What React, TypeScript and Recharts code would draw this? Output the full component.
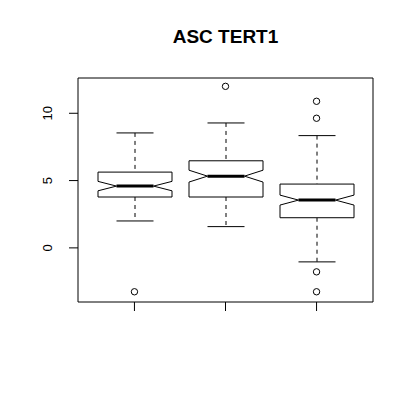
import { ComposedChart, Bar, Scatter, XAxis, YAxis, ReferenceArea } from 'recharts';

const groups = ['1', '2', '3'];
const whiskerLow = [2.0, 1.58, -1.04];
const lowerQuartile = [3.78, 3.78, 2.24];
const medians = [4.59, 5.33, 3.55];
const upperQuartile = [5.63, 6.47, 4.74];
const whiskerHigh = [8.54, 9.28, 8.34];
const notchHalf = [0.35, 0.44, 0.37];

const outlierGroup = [1, 2, 3, 3, 3, 3];
const outlierValue = [-3.26, 12.0, 10.89, 9.63, -1.78, -3.26];

const yTicks = [0, 5, 10];
const xTicks = [1, 2, 3];
const yDomain = [-4.02, 12.62];
const xDomain = [0.38, 3.62];

const boxes = groups.map((name, i) => ({
  name,
  g: i + 1,
  lo: whiskerLow[i],
  q1: lowerQuartile[i],
  med: medians[i],
  q3: upperQuartile[i],
  hi: whiskerHigh[i],
  notch: notchHalf[i],
}));

const outliers = outlierGroup.map((g, i) => ({ g, v: outlierValue[i] }));

const FONT = '"Liberation Sans", Arial, sans-serif';

function BoxShape(props: any) {
  const { x, y, width, height, payload } = props;
  const p = payload;
  // pixel position of a value, using the whisker range the bar was drawn with
  const py = (v: number) => y + (height * (p.hi - v)) / (p.hi - p.lo);
  const cx = x + width / 2;
  const l = x;
  const r = x + width;
  const inset = width / 4;
  const yq3 = py(p.q3);
  const yq1 = py(p.q1);
  const ym = py(p.med);
  const yn1 = py(p.med + p.notch);
  const yn2 = py(p.med - p.notch);
  const outline = [
    [l, yq3], [l, yn1], [l + inset, ym], [l, yn2], [l, yq1],
    [r, yq1], [r, yn2], [r - inset, ym], [r, yn1], [r, yq3],
  ].map((pt) => pt.join(',')).join(' ');
  const cap = width / 4;
  return (
    <g>
      <line x1={cx} x2={cx} y1={py(p.hi)} y2={yq3} stroke="#000" strokeDasharray="4 4" />
      <line x1={cx} x2={cx} y1={yq1} y2={py(p.lo)} stroke="#000" strokeDasharray="4 4" />
      <line x1={cx - cap} x2={cx + cap} y1={py(p.hi)} y2={py(p.hi)} stroke="#000" />
      <line x1={cx - cap} x2={cx + cap} y1={py(p.lo)} y2={py(p.lo)} stroke="#000" />
      <polygon points={outline} fill="#fff" stroke="#000" />
      <line x1={l + inset} x2={r - inset} y1={ym} y2={ym} stroke="#000" strokeWidth={3} />
    </g>
  );
}

function YTick(props: any) {
  const { y, payload } = props;
  const bx = 52.5;
  return (
    <text
      x={bx}
      y={y}
      transform={`rotate(-90, ${bx}, ${y})`}
      textAnchor="middle"
      fontSize={13}
      fontFamily={FONT}
      fill="#000"
    >
      {payload.value}
    </text>
  );
}

export default function App() {
  return (
    <div style={{ position: 'absolute', left: 0, top: 0, width: 414, height: 400, background: '#fff' }}>
      <div
        style={{
          position: 'absolute',
          left: 125.5,
          width: 200,
          top: 27,
          textAlign: 'center',
          fontFamily: FONT,
          fontWeight: 700,
          fontSize: 19,
          lineHeight: 1,
          color: '#000',
        }}
      >
        ASC TERT1
      </div>
      <ComposedChart
        width={414}
        height={400}
        data={boxes}
        margin={{ top: 78, right: 41, bottom: 68, left: 38 }}
      >
        <XAxis xAxisId="cat" dataKey="name" type="category" hide height={0} padding={{ left: 11, right: 11 }} />
        <XAxis
          xAxisId="num"
          dataKey="g"
          type="number"
          domain={xDomain}
          allowDataOverflow
          ticks={xTicks}
          tickFormatter={() => ''}
          tickSize={9}
          height={30}
          axisLine={false}
          tickLine={{ stroke: '#000' }}
        />
        <YAxis
          type="number"
          domain={yDomain}
          allowDataOverflow
          ticks={yTicks}
          width={40}
          tickSize={9}
          tickMargin={0}
          axisLine={false}
          tickLine={{ stroke: '#000' }}
          tick={<YTick />}
        />
        <ReferenceArea
          xAxisId="num"
          x1={xDomain[0]}
          x2={xDomain[1]}
          y1={yDomain[0]}
          y2={yDomain[1]}
          fill="none"
          stroke="#000"
          strokeWidth={1}
          fillOpacity={0}
          ifOverflow="visible"
        />
        <Bar
          xAxisId="cat"
          dataKey={(d: any) => [d.lo, d.hi]}
          barSize={74}
          shape={<BoxShape />}
          isAnimationActive={false}
        />
        <Scatter
          xAxisId="num"
          data={outliers}
          dataKey="v"
          isAnimationActive={false}
          shape={(p: any) => <circle cx={p.cx} cy={p.cy} r={3.2} fill="none" stroke="#000" />}
        />
      </ComposedChart>
    </div>
  );
}
